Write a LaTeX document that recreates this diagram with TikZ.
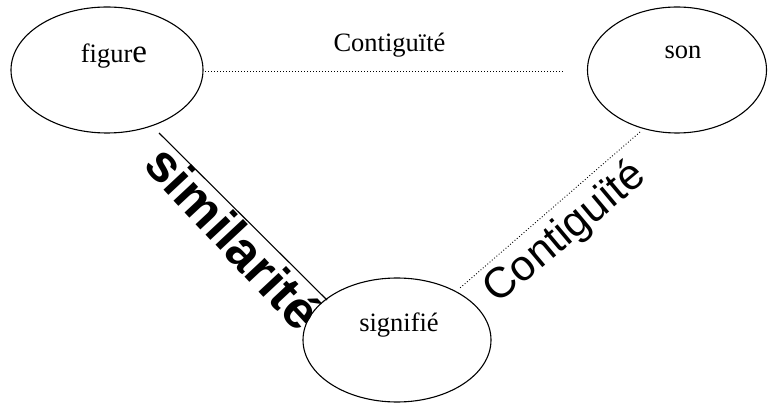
\documentclass[tikz,border=0pt]{standalone}
\usepackage{fontspec}
\setmainfont{Liberation Serif}
\newfontfamily\arialfont{Liberation Sans}
\usetikzlibrary{shapes.geometric}
\tikzset{
  oval/.style={draw, ellipse, line width=1.1pt, inner sep=0pt},
  serif/.style={font=\fontsize{26.5}{30}\selectfont, anchor=base, inner sep=0pt},
  dotline/.style={line width=0.9pt, dash pattern=on 0.9pt off 2.1pt},
  solidline/.style={line width=1.1pt},
  diag/.style={anchor=base, inner sep=0pt}
}
\begin{document}
\begin{tikzpicture}[x=1pt,y=-1pt]
\useasboundingbox (0,0) rectangle (768,403);
% ellipses
\node[oval, minimum width=192pt, minimum height=126pt] (fig) at (107,70) {};
\node[oval, minimum width=179pt, minimum height=126pt] (son) at (677,70) {};
\node[oval, minimum width=188pt, minimum height=124pt] (sig) at (397,340) {};
% texts
\node[serif] (tfig) at (114,63) {figur{\fontsize{33}{36}\selectfont e}};
\node[serif] (tson) at (683,59) {son};
\node[serif] (tsig) at (399,331) {signifié};
\node[serif] (tcont) at (389.5,52) {Contiguïté};
% connectors
\coordinate (h1) at (205,71);
\coordinate (h2) at (563,71);
\draw[dotline] (h1) -- (h2);
\coordinate (s1) at (159,133);
\coordinate (s2) at (327,300);
\draw[solidline] (s1) -- (s2);
\coordinate (c1) at (640,132);
\coordinate (c2) at (460,288);
\draw[dotline] (c1) -- (c2);
% diagonal labels
\node[diag, rotate=-47, font=\arialfont\bfseries\fontsize{52}{56}\selectfont] (lsim) at (220,250) {similarité};
\node[diag, rotate=40, font=\arialfont\fontsize{43}{47}\selectfont] (lcont) at (573,242) {Contiguïté};
\end{tikzpicture}
\end{document}
